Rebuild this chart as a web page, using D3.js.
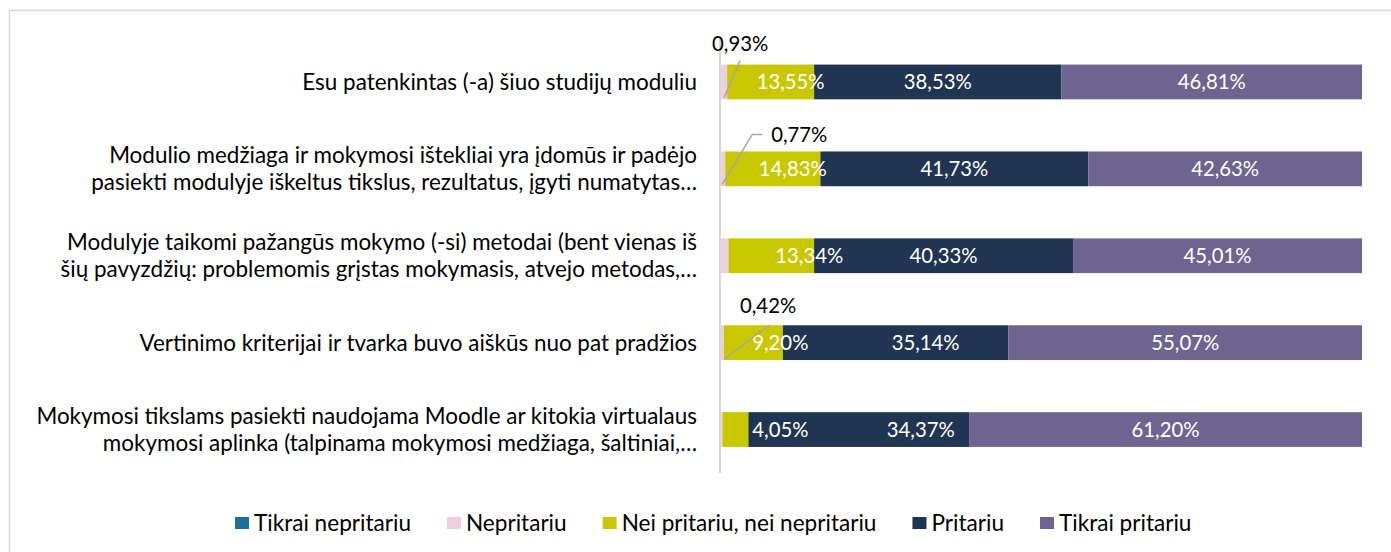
<!DOCTYPE html>
<html>
<head>
<meta charset="utf-8">
<script src="https://cdn.jsdelivr.net/npm/d3@7"></script>
<style>
  html, body { margin: 0; padding: 0; background: #fff; }
  svg { display: block; font-family: Lato, "Open Sans", sans-serif; }
</style>
</head>
<body>
<svg id="chart" width="1391" height="552"></svg>
<script>
// ---------- data ----------
const categories = [
  ["Esu patenkintas (-a) šiuo studijų moduliu"],
  ["Modulio medžiaga ir mokymosi ištekliai yra įdomūs ir padėjo", "pasiekti modulyje iškeltus tikslus, rezultatus, įgyti numatytas…"],
  ["Modulyje taikomi pažangūs mokymo (-si) metodai (bent vienas iš", "šių pavyzdžių: problemomis grįstas mokymasis, atvejo metodas,…"],
  ["Vertinimo kriterijai ir tvarka buvo aiškūs nuo pat pradžios"],
  ["Mokymosi tikslams pasiekti naudojama Moodle ar kitokia virtualaus", "mokymosi aplinka (talpinama mokymosi medžiaga, šaltiniai,…"]
];
const seriesNames = ["Tikrai nepritariu", "Nepritariu", "Nei pritariu, nei nepritariu", "Pritariu", "Tikrai pritariu"];
const tikraiNepritariu = [0.18, 0.04, 0.00, 0.17, 0.00];
const nepritariu       = [0.93, 0.77, 1.32, 0.42, 0.38];
const neiPritariu      = [13.55, 14.83, 13.34, 9.20, 4.05];
const pritariu         = [38.53, 41.73, 40.33, 35.14, 34.37];
const tikraiPritariu   = [46.81, 42.63, 45.01, 55.07, 61.20];
const nepritariuShown  = [true, true, false, true, false];

// ---------- style / layout ----------
const colors = ["#1F6E9C", "#EBD0DF", "#C9C800", "#1F3552", "#6E6490"];
const neiLabelDx = [20, 20, 38, 27, 45];
const priLabelDx = [0, 0, 0, 30, 62];
const callouts = [
  {tx: 19, ty: -21, pts: [[3, 33], [19, -4]]},
  {tx: 79, ty: -17, pts: [[2, 33], [32, -17], [42, -17]]},
  null,
  {tx: 47, ty: -19, pts: [[3, 34], [48, 0]]},
  null
];

const svg = d3.select("#chart");
const W = 1391, H = 552;
const x0 = 720, x1 = 1362;
const yTop = 38.5, yBot = 473;

// fit font sizes to measured reference widths
function fitSize(sample, target) {
  const t = svg.append("text").attr("font-size", 20).text(sample);
  const w = t.node().getComputedTextLength();
  t.remove();
  return 20 * target / w;
}
const fontCat = fitSize("Esu patenkintas (-a) šiuo studijų moduliu", 395);
const fontLbl = fitSize("13,55%", 68);
const fontLeg = fitSize("Tikrai nepritariu", 157);

// border (chart area extends beyond the window on right/bottom)
svg.append("rect").attr("x", 9.5).attr("y", 10.5).attr("width", W + 20).attr("height", H + 20)
  .attr("fill", "#fff").attr("stroke", "#D9D9D9").attr("stroke-width", 1.5);

const x = d3.scaleLinear().domain([0, 100]).range([x0, x1]);
const y = d3.scaleBand().domain(d3.range(categories.length)).range([yTop, yBot]).paddingInner(0.6).paddingOuter(0.3);

const seriesArr = [tikraiNepritariu, nepritariu, neiPritariu, pritariu, tikraiPritariu];
const rows = categories.map((c, i) => {
  const o = {i};
  seriesNames.forEach((s, k) => o[s] = seriesArr[k][i]);
  return o;
});
const stack = d3.stack().keys(seriesNames)(rows);

// bars
const g = svg.append("g");
stack.forEach((layer, k) => {
  g.selectAll(null).data(layer).join("rect")
    .attr("x", d => x(d[0]))
    .attr("y", (d, i) => y(i))
    .attr("width", d => Math.max(0, x(d[1]) - x(d[0])))
    .attr("height", y.bandwidth())
    .attr("fill", colors[k]);
});

// vertical axis line
const yAxis = d3.axisLeft(y).tickSize(0).tickFormat("");
const axG = svg.append("g").attr("transform", `translate(${x0},0)`).call(yAxis);
axG.select(".domain").attr("stroke", "#D9D9D9").attr("stroke-width", 2).attr("d", `M0,${yTop}V${yBot}`);

// category labels
categories.forEach((lines, i) => {
  const cy = y(i) + y.bandwidth() / 2;
  const lh = 27.5;
  const t = svg.append("text").attr("text-anchor", "end").attr("font-size", fontCat).attr("fill", "#000");
  lines.forEach((ln, j) => {
    t.append("tspan").attr("x", 697).attr("y", cy + (j - (lines.length - 1) / 2) * lh).attr("dy", "0.35em").text(ln);
  });
});

const fmt = v => v.toFixed(2).replace(".", ",") + "%";

// value labels inside bars
[[2, neiLabelDx], [3, priLabelDx], [4, null]].forEach(([k, dxArr]) => {
  stack[k].forEach((d, i) => {
    svg.append("text")
      .attr("x", (x(d[0]) + x(d[1])) / 2 + (dxArr ? dxArr[i] : 0))
      .attr("y", y(i) + y.bandwidth() / 2)
      .attr("dy", "0.35em")
      .attr("text-anchor", "middle")
      .attr("font-size", fontLbl)
      .attr("fill", "#fff")
      .text(fmt(seriesArr[k][i]));
  });
});

// callout labels for Nepritariu
stack[1].forEach((d, i) => {
  if (!nepritariuShown[i] || !callouts[i]) return;
  const c = callouts[i];
  const bx = x(d[0]), by = y(i);
  const pts = c.pts.map(p => [bx + p[0], by + p[1]]);
  svg.append("path").attr("d", d3.line()(pts)).attr("fill", "none").attr("stroke", "#A6A6A6").attr("stroke-width", 1.5);
  svg.append("text")
    .attr("x", bx + c.tx).attr("y", by + c.ty).attr("dy", "0.35em")
    .attr("text-anchor", "middle").attr("font-size", fontLbl).attr("fill", "#000")
    .text(fmt(nepritariu[i]));
});

// legend
const leg = svg.append("g");
const legY = 523, sqW = 14, sqH = 12, gap = 36, sqGap = 5;
let cx = 0;
seriesNames.forEach((s, k) => {
  const it = leg.append("g");
  it.append("rect").attr("x", 0).attr("y", -sqH / 2).attr("width", sqW).attr("height", sqH).attr("fill", colors[k]);
  const t = it.append("text").attr("x", sqW + sqGap).attr("y", 0).attr("dy", "0.35em").attr("font-size", fontLeg).attr("fill", "#000").text(s);
  const w = sqW + sqGap + t.node().getComputedTextLength();
  it.attr("transform", `translate(${cx},${legY})`);
  cx += w + gap;
});
leg.attr("transform", `translate(235,0)`);
</script>
</body>
</html>
